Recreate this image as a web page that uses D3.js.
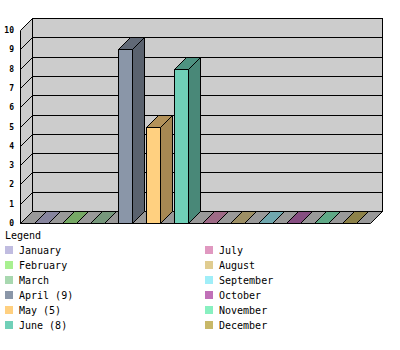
<!DOCTYPE html>
<html>
<head>
<meta charset="utf-8">
<script src="https://cdn.jsdelivr.net/npm/d3@7"></script>
<style>
  body { margin: 0; background: #fff; }
  svg { display: block; }
  text { font-family: 'DejaVu Sans Mono', monospace; }
</style>
</head>
<body>
<svg id="chart" width="400" height="350"></svg>
<script>
// months + counts
const months = ['January', 'February', 'March', 'April', 'May', 'June',
  'July', 'August', 'September', 'October', 'November', 'December']
const counts = [0, 0, 0, 9, 5, 8, 0, 0, 0, 0, 0, 0]
const colors = ['#c0bce0', '#a8f090', '#a8d8b0', '#8a96a8', '#ffd080', '#70d0b8',
  '#e098c0', '#e0cc90', '#a0eef8', '#c070b8', '#88f0c0', '#c8b868']
const yTicks = [0, 1, 2, 3, 4, 5, 6, 7, 8, 9, 10]

const svg = d3.select('#chart')
const depth = 12  // 3d offset
const frontLeft = 20, frontRight = 370

const y = d3.scaleLinear().domain([0, 10]).range([211, 18])
const x = d3.scaleBand().domain(months).range([27, 363])
  .paddingInner(0.5).paddingOuter(0.25)

const g = svg.append('g').attr('transform', 'translate(0.5,0.5)')

// back wall
g.append('rect')
  .attr('x', frontLeft + depth).attr('y', y(10))
  .attr('width', frontRight - frontLeft).attr('height', y(0) - y(10))
  .attr('fill', '#cccccc').attr('stroke', '#000')

// left side wall
g.append('polygon')
  .attr('points', [[frontLeft, y(10) + depth], [frontLeft + depth, y(10)],
    [frontLeft + depth, y(0)], [frontLeft, y(0) + depth]].join(' '))
  .attr('fill', '#cccccc').attr('stroke', '#000')

// floor
g.append('polygon')
  .attr('points', [[frontLeft, y(0) + depth], [frontLeft + depth, y(0)],
    [frontRight + depth, y(0)], [frontRight, y(0) + depth]].join(' '))
  .attr('fill', '#999999').attr('stroke', '#000')

// grid lines + side ticks
const grid = yTicks.filter(d => d > 0 && d < 10)
g.selectAll('.grid').data(grid).enter().append('line')
  .attr('class', 'grid')
  .attr('x1', frontLeft + depth).attr('x2', frontRight + depth)
  .attr('y1', d => Math.round(y(d))).attr('y2', d => Math.round(y(d)))
  .attr('stroke', '#000')
g.selectAll('.sidetick').data(yTicks.filter(d => d < 10)).enter().append('line')
  .attr('class', 'sidetick')
  .attr('x1', frontLeft).attr('x2', frontLeft + depth)
  .attr('y1', d => Math.round(y(d)) + depth).attr('y2', d => Math.round(y(d)))
  .attr('stroke', '#000')

// tick labels
svg.selectAll('.ylabel').data(yTicks).enter().append('text')
  .attr('class', 'ylabel')
  .attr('x', 14).attr('y', d => Math.round(y(d)) + depth)
  .attr('dy', '0.35em')
  .attr('text-anchor', 'end')
  .attr('font-size', 8).attr('font-weight', 'bold')
  .text(d => d)

// bars
const bars = g.selectAll('.bar').data(months).enter().append('g').attr('class', 'bar')
bars.each(function (m, i) {
  const b = d3.select(this)
  const x0 = Math.round(x(m)), w = Math.round(x.bandwidth())
  const yb = y(0) + depth
  const yt = Math.round(y(counts[i])) + depth
  const c = d3.color(colors[i])
  if (counts[i] > 0) {
    b.append('rect')
      .attr('x', x0).attr('y', yt).attr('width', w).attr('height', yb - yt)
      .attr('fill', c.formatHex()).attr('stroke', '#000')
    b.append('polygon')
      .attr('points', [[x0 + w, yt], [x0 + w + depth, yt - depth],
        [x0 + w + depth, yb - depth], [x0 + w, yb]].join(' '))
      .attr('fill', c.darker(1.2).formatHex()).attr('stroke', '#000')
  }
  b.append('polygon')
    .attr('points', [[x0, yt], [x0 + depth, yt - depth],
      [x0 + w + depth, yt - depth], [x0 + w, yt]].join(' '))
    .attr('fill', c.darker(1).formatHex()).attr('stroke', '#000')
})

// legend
svg.append('text').attr('x', 5).attr('y', 235).attr('dy', '0.35em')
  .attr('font-size', 10).text('Legend')
const items = svg.selectAll('.item').data(months).enter().append('g')
  .attr('class', 'item')
  .attr('transform', (d, i) => 'translate(' + (i < 6 ? 5 : 205) + ',' + (250 + (i % 6) * 15) + ')')
items.append('rect')
  .attr('x', 0).attr('y', -4).attr('width', 8).attr('height', 8)
  .attr('fill', (d, i) => colors[i])
items.append('text')
  .attr('x', 14).attr('dy', '0.35em').attr('font-size', 10)
  .text((d, i) => counts[i] > 0 ? d + ' (' + counts[i] + ')' : d)
</script>
</body>
</html>
